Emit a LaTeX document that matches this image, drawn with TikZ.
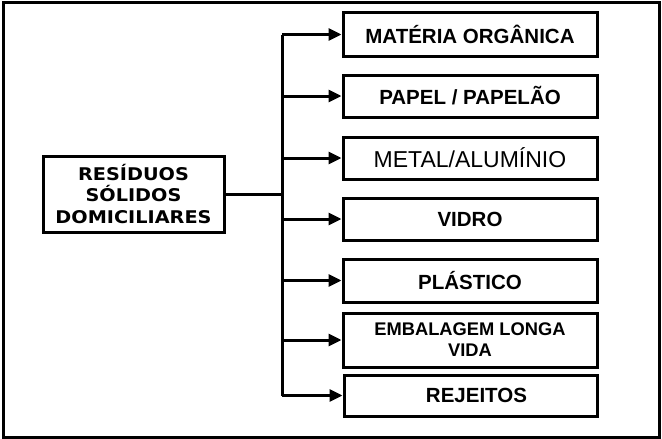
\documentclass[tikz,border=0pt]{standalone}
\usepackage{fontspec}
\setmainfont{Liberation Sans}
\newfontfamily\comicfont[FakeStretch=1.1]{DejaVu Sans}
\usetikzlibrary{arrows.meta}
\tikzset{
  box/.style={draw, line width=3pt, rectangle, minimum width=254pt, inner sep=0pt, align=center},
  bigtext/.style={font=\bfseries\fontsize{20.5}{22}\selectfont},
  conn/.style={line width=3pt},
  arr/.style={line width=3pt, -{Triangle[length=13pt,width=12pt]}}
}
\begin{document}
\begin{tikzpicture}[x=1pt,y=-1pt]
\useasboundingbox (0,0) rectangle (662,439);
\draw[line width=3pt] (3,2) rectangle (659,437);

\node[box, minimum width=181pt, minimum height=76pt, font=\comicfont\bfseries\fontsize{17.5}{21.5}\selectfont] (L) at (133.5,194) {RESÍDUOS\\SÓLIDOS\\DOMICILIARES};

\node[box, bigtext, minimum height=44pt] (m) at (470,34.5) {MATÉRIA ORGÂNICA};
\node[box, bigtext, minimum height=42pt] (p) at (470,96) {PAPEL / PAPELÃO};
\node[box, font=\fontsize{23}{24}\selectfont, minimum height=42pt] (me) at (470,158) {METAL/ALUMÍNIO};
\node[box, bigtext, minimum height=42pt] (v) at (470,219) {VIDRO};
\node[box, bigtext, minimum height=43pt] (pl) at (470,280.5) {PLÁSTICO};
\node[box, font=\bfseries\fontsize{18.3}{21}\selectfont, minimum height=54pt] (e) at (470,340) {EMBALAGEM LONGA\\VIDA};
\node[box, bigtext, minimum width=253pt, minimum height=41pt] (r) at (470.5,395.5) {\hspace{12pt}REJEITOS};

\coordinate (tx) at (282,0);
\draw[conn] (m.west -| tx) -- (r.west -| tx);
\draw[conn] (L.east) -- (L.east -| tx);
\foreach \n in {m,p,me,v,pl,e,r}{
  \draw[arr] (\n.west -| tx) -- (\n.west);
}
\end{tikzpicture}
\end{document}
